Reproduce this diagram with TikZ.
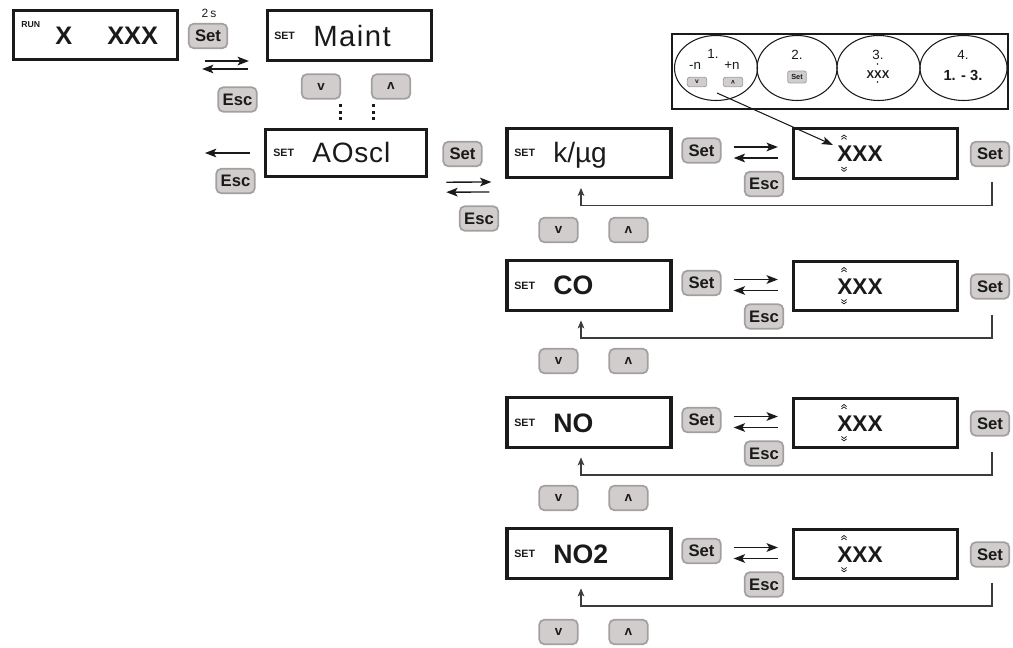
\documentclass[tikz,border=0pt]{standalone}
\usepackage{fontspec}
\usepackage{graphicx}
\setmainfont{Liberation Sans}
\usetikzlibrary{arrows.meta,calc,shapes.geometric}
\definecolor{btnfill}{RGB}{209,205,205}
\definecolor{btnedge}{RGB}{163,159,159}
\definecolor{ink}{RGB}{26,26,26}
\newcommand\fs[1]{\fontsize{#1}{#1}\selectfont}
\newcommand\upsym{\rotatebox[origin=c]{180}{v}}
% double chevrons: #1 x, #2 y top (pointing up)
\newcommand\chevup[2]{%
  \draw[ink,line width=0.55pt] (#1-2.6,#2+2) -- (#1,#2) -- (#1+2.6,#2+2);
  \draw[ink,line width=0.55pt] (#1-2.6,#2+4.4) -- (#1,#2+2.4) -- (#1+2.6,#2+4.4);}
\newcommand\chevdn[2]{%
  \draw[ink,line width=0.55pt] (#1-2.6,#2) -- (#1,#2+2) -- (#1+2.6,#2);
  \draw[ink,line width=0.55pt] (#1-2.6,#2+2.4) -- (#1,#2+4.4) -- (#1+2.6,#2+2.4);}
% one parameter row: #1 idx, #2 centre y, #3 label, #4 y of v/^ keys
\newcommand\lcdrow[4]{%
  \node[lcd] (b#1) at (589,#2) {};
  \node[settag] (bt#1) at (514,#2+4) {SET};
  \node[big] (bl#1) at (553,#2+9.5) {#3};
  \node[btn] (s#1) at (701.5,#2-2.5) {Set};
  \node[btn] (e#1) at (764,#2+31) {Esc};
  \node[lcd] (v#1) at (875.5,#2+0.5) {};
  \node[val] (vx#1) at (837,#2+9) {XXX};
  \chevup{844}{#2-18}
  \chevdn{844}{#2+14}
  \node[btn] (r#1) at (990,#2+1) {Set};
  \node[btn,font=\bfseries\fs{10}] (dn#1) at (558.5,#4) {v};
  \node[btn,font=\bfseries\fs{10}] (up#1) at (628.5,#4) {\upsym};
  \draw[arr] ($(s#1.east)+(12,-3.5)$) -- ($(v#1.west |- s#1.east)+(-14,-3.5)$);
  \draw[arr] ($(v#1.west |- s#1.east)+(-14,7.5)$) -- ($(s#1.east)+(12,7.5)$);
  \coordinate (fs#1) at ($(r#1.south)+(2,15)$);
  \coordinate (ft#1) at (581,#2+52.5);
  \draw[fb, shorten >=6.5pt] (fs#1) |- (ft#1) -- (ft#1 |- b#1.south);
}
\begin{document}
\begin{tikzpicture}[x=0.75pt,y=-0.75pt,
  lcd/.style={draw=ink, line width=2.4pt, minimum width=123pt, minimum height=37pt, inner sep=0pt},
  btn/.style={draw=btnedge, fill=btnfill, line width=1.3pt, rounded corners=4pt,
    minimum width=29pt, minimum height=18.5pt, inner sep=0pt, font=\bfseries\fs{12.5}, text=ink},
  sbtn/.style={draw=btnedge, fill=btnfill, line width=0.6pt, rounded corners=1.6pt,
    minimum width=14.5pt, minimum height=7pt, inner sep=0pt, font=\bfseries\fs{5}, text=ink},
  arr/.style={draw=ink, line width=1pt, -{Stealth[length=8.5pt,width=6.5pt,inset=2pt]}},
  thinarr/.style={draw=ink, line width=0.8pt, -{Stealth[length=8.5pt,width=6pt,inset=2pt]}},
  fb/.style={draw=ink!85, line width=0.8pt, -{Stealth[length=6pt,width=5pt,inset=1.5pt]}},
  settag/.style={font=\bfseries\fs{8}, anchor=base west, inner sep=0pt, text=ink},
  big/.style={font=\fs{20}, anchor=base west, inner sep=0pt, text=ink},
  val/.style={font=\bfseries\fs{17}, anchor=base west, inner sep=0pt, text=ink},
  lbl/.style={font=\fs{10}, inner sep=0pt, text=ink},
  dot/.style={fill=ink}
]
\useasboundingbox (0,0) rectangle (1013,648);

% ---- RUN display
\node[lcd] (run) at (95.5,35) {};
\node[font=\bfseries\fs{6.5}, anchor=base west, inner sep=0pt, text=ink] (runtag) at (21,27.5) {RUN};
\node[big, font=\bfseries\fs{19}] (runx) at (55,45) {X};
\node[big, font=\bfseries\fs{19}] (runxxx) at (107,45) {XXX};

% ---- Maint display
\node[btn] (set0) at (208,36) {Set};
\node[lbl, font=\fs{9}] (twos) at (209,13.5) {2\,s};
\node[lcd] (maint) at (349.5,35.5) {};
\node[settag] (mt) at (274,39.5) {SET};
\node[big, font=\fs{22}\addfontfeature{LetterSpace=5}] (ml) at (313,47) {Maint};
\draw[arr] ($(run.east)+(26,26)$) -- ($(maint.west)+(-17,25.5)$);
\draw[arr] ($(maint.west)+(-18,33.5)$) -- ($(run.east)+(23,34)$);
\node[btn] (esc0) at (237.5,99.5) {Esc};
\node[btn,font=\bfseries\fs{10}] (dn0) at (321,86.5) {v};
\node[btn,font=\bfseries\fs{10}] (up0) at (391,86.5) {\upsym};
\foreach \yy in {104.5,111,117.5}{
  \fill[dot] (338.5,\yy) rectangle ++(3,3);
  \fill[dot] (371.5,\yy) rectangle ++(3,3);
}

% ---- AOscl display
\node[lcd, minimum width=120.75pt, minimum height=35.25pt] (ao) at (346,153) {};
\node[settag] (aot) at (273,157) {SET};
\node[big, font=\fs{21}\addfontfeature{LetterSpace=3}] (aol) at (312,163) {AOscl};
\coordinate (aoback) at (205,153);
\draw[arr] ($(ao.west)+(-14,0)$) -- (aoback);
\node[btn] (esc1) at (235.5,181) {Esc};
\node[btn] (set1) at (462.5,154) {Set};
\node[btn] (esc2) at (479,218.5) {Esc};

% ---- parameter rows
\lcdrow{1}{153}{\fs{21}k/µg}{230}
\lcdrow{2}{285.5}{\bfseries CO}{361}
\lcdrow{3}{422.5}{\bfseries NO}{498}
\lcdrow{4}{553.5}{\bfseries NO2}{632}
\draw[arr] ($(set1.south west)+(4,15)$) -- ($(b1.west)+(-14,29)$);
\draw[arr] ($(b1.west)+(-16,39)$) -- ($(set1.south west)+(4,25)$);

% ---- legend
\node[draw=ink, line width=0.8pt, minimum width=252pt, minimum height=56.25pt, inner sep=0pt] (legend) at (840,71.5) {};
\node[ellipse, draw=ink, line width=0.8pt, minimum width=62.25pt, minimum height=48.75pt, inner sep=0pt] (el1) at (716,68) {};
\node[ellipse, draw=ink, line width=0.8pt, minimum width=60pt, minimum height=48.75pt, inner sep=0pt] (el2) at (797,68) {};
\node[ellipse, draw=ink, line width=0.8pt, minimum width=62.25pt, minimum height=48.75pt, inner sep=0pt] (el3) at (878.5,68) {};
\node[ellipse, draw=ink, line width=0.8pt, minimum width=65.25pt, minimum height=48.75pt, inner sep=0pt] (el4) at (963.5,68) {};
\node[lbl] (l1) at (713,54) {1.};
\node[lbl] (lmn) at (695,66) {-n};
\node[lbl] (lpn) at (732,66) {+n};
\node[sbtn] (ldn) at (697,82) {v};
\node[sbtn] (lup) at (733,82) {\upsym};
\node[lbl] (l2) at (797,55) {2.};
\node[sbtn, minimum width=14pt, minimum height=9pt, font=\bfseries\fs{5.5}] (lset) at (797,77) {Set};
\node[lbl] (l3) at (878,55) {3.};
\node[lbl, font=\bfseries\fs{8.5}] (lxxx) at (878,75) {XXX};
\fill[ink] (877.5,64) circle (0.9);
\fill[ink] (877.5,82) circle (0.9);
\node[lbl] (l4) at (963,55) {4.};
\node[lbl, font=\bfseries\fs{11}] (l13) at (963,75) {1. - 3.};
\coordinate (lfrom) at (717,93);
\draw[thinarr] (lfrom) -- ($(vx1.base west)+(-4,-17)$);
\end{tikzpicture}
\end{document}
